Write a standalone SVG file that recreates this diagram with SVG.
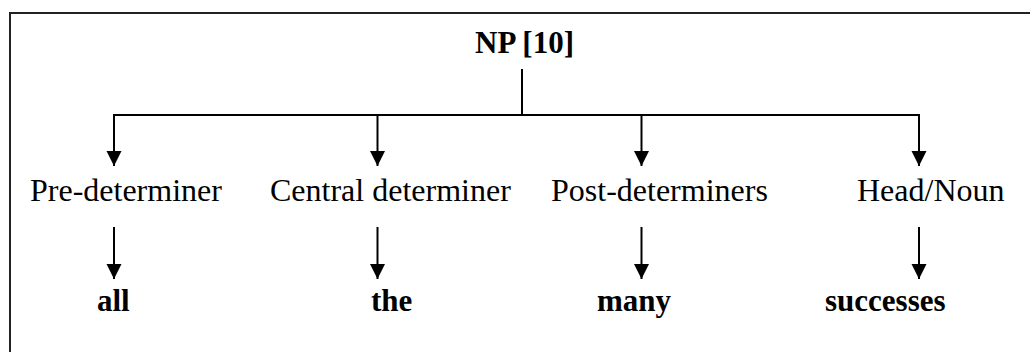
<svg xmlns="http://www.w3.org/2000/svg" width="1030" height="352" viewBox="0 0 1030 352">
<style>
.reg{font-family:"Liberation Serif","Times New Roman",serif;font-size:32px;fill:#000}
.bold{font-family:"Liberation Serif","Times New Roman",serif;font-size:31px;font-weight:bold;fill:#000}
.ln{stroke:#000;stroke-width:2;fill:none}
</style>
<defs>
<marker id="ah" markerWidth="16" markerHeight="16" viewBox="0 0 16 16" refX="15" refY="8" orient="auto" markerUnits="userSpaceOnUse">
<path d="M0,0.5 L15,8 L0,15.5 Z" fill="#000"/>
</marker>
</defs>
<rect x="10" y="13" width="1040" height="360" fill="#fff" stroke="#222" stroke-width="2"/>
<g id="connectors">
<path class="ln" d="M522,69 V115"/>
<path class="ln" d="M114,115 H919"/>
<path class="ln" d="M114,114 V166" marker-end="url(#ah)"/>
<path class="ln" d="M377.5,115 V166" marker-end="url(#ah)"/>
<path class="ln" d="M641.5,115 V166" marker-end="url(#ah)"/>
<path class="ln" d="M919,114 V166" marker-end="url(#ah)"/>
<path class="ln" d="M114,227 V279" marker-end="url(#ah)"/>
<path class="ln" d="M377.5,227 V279" marker-end="url(#ah)"/>
<path class="ln" d="M641.5,227 V279" marker-end="url(#ah)"/>
<path class="ln" d="M919,227 V279" marker-end="url(#ah)"/>
</g>
<g id="np"><text class="bold" x="475" y="53">NP [10]</text></g>
<g id="predeterminer"><text class="reg" x="30" y="201">Pre-determiner</text></g>
<g id="central"><text class="reg" x="270" y="201">Central determiner</text></g>
<g id="postdeterminers"><text class="reg" x="551" y="201">Post-determiners</text></g>
<g id="head"><text class="reg" x="857" y="201">Head/Noun</text></g>
<g id="all"><text class="bold" x="97" y="311">all</text></g>
<g id="the"><text class="bold" x="371" y="311">the</text></g>
<g id="many"><text class="bold" x="597" y="311">many</text></g>
<g id="successes"><text class="bold" x="825" y="311">successes</text></g>
</svg>
